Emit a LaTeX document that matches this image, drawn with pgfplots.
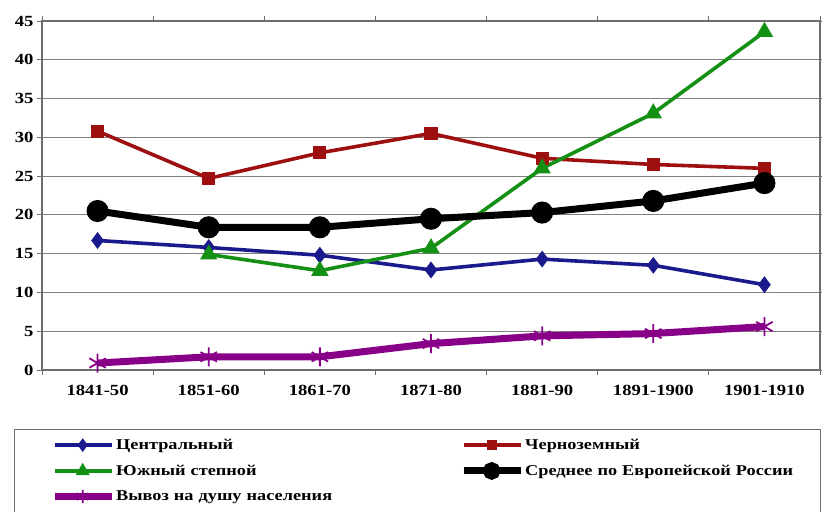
\documentclass[border=0pt]{standalone}
\usepackage{fontspec}
\setmainfont{Liberation Serif}[FakeStretch=1.2]
\newfontfamily\legfont{Liberation Serif}[FakeStretch=1.22]
\usepackage{pgfplots}
\pgfplotsset{compat=1.18}
\definecolor{cblue}{HTML}{1A1A8C}
\definecolor{cred}{HTML}{9E1010}
\definecolor{cgreen}{HTML}{149014}
\definecolor{cpurple}{HTML}{880088}
\definecolor{cframe}{HTML}{6E6E6E}
\definecolor{cgrid}{HTML}{808080}
\begin{document}
\begin{tikzpicture}
\begin{axis}[name=ax, scale only axis, width=778bp, height=349bp,
  xmin=-0.5, xmax=6.5, ymin=0, ymax=45,
  xtick={-0.5,0.5,...,6.5}, xticklabels={},
  extra x ticks={0,1,2,3,4,5,6},
  extra x tick labels={1841-50,1851-60,1861-70,1871-80,1881-90,1891-1900,1901-1910},
  extra x tick style={major tick length=0pt, grid=none, tick label style={yshift=-12bp}},
  ytick={0,5,...,45},
  ymajorgrids, grid style={cgrid, line width=0.8bp},
  tick align=outside, major tick length=5bp,
  tick style={cframe, line width=0.8bp},
  axis line style={cframe, line width=1.8bp},
  tick label style={font=\fontsize{15.5bp}{18bp}\selectfont\bfseries},
  /pgf/number format/assume math mode=true,
  legend columns=2,
  legend cell align=left,
  legend style={draw=none, fill=none, inner sep=0pt, at={(0,0)}, anchor=north west,
    xshift=9bp, yshift=-62bp, row sep=0pt, column sep=0pt,
    font=\fontsize{15bp}{18bp}\legfont\bfseries,
    nodes={text width=343bp, inner xsep=1bp, inner ysep=7bp}},
  legend image code/.code={\draw[mark repeat=2,mark phase=2,every mark/.append style={scale=0.7}] plot coordinates {(0bp,0bp)(28bp,0bp)(57bp,0bp)};},
]
\addplot[cblue, line width=3.6bp, mark=diamond*, mark size=5.5bp, mark options={solid}]
  coordinates {(0,16.7)(1,15.8)(2,14.8)(3,12.9)(4,14.3)(5,13.5)(6,11.0)};
\addlegendentry{Центральный}
\addplot[cred, line width=3.6bp, mark=square*, mark size=4.8bp, mark options={solid}]
  coordinates {(0,30.8)(1,24.7)(2,28.0)(3,30.5)(4,27.3)(5,26.5)(6,26.0)};
\addlegendentry{Черноземный}
\addplot[cgreen, line width=3.6bp, mark=triangle*, mark size=6.5bp, mark options={solid}]
  coordinates {(1,14.9)(2,12.8)(3,15.7)(4,26.0)(5,33.1)(6,43.6)};
\addlegendentry{Южный степной}
\addplot[black, line width=7bp, mark=*, mark size=7.5bp, mark options={solid}]
  coordinates {(0,20.5)(1,18.4)(2,18.4)(3,19.5)(4,20.3)(5,21.8)(6,24.1)};
\addlegendentry{Среднее по Европейской России}
\addplot[cpurple, line width=7bp, mark=asterisk, mark size=9.5bp, mark options={solid, line width=1.8bp}]
  coordinates {(0,0.9)(1,1.7)(2,1.7)(3,3.4)(4,4.4)(5,4.7)(6,5.6)};
\addlegendentry{Вывоз на душу населения}
\end{axis}
\draw[cframe, line width=1bp] ([xshift=-27bp,yshift=-150bp]ax.south west) -- ([xshift=-27bp,yshift=-59bp]ax.south west) -- ([yshift=-59bp]ax.south east) -- ([yshift=-150bp]ax.south east);
\pgfresetboundingbox
\path[use as bounding box] ([xshift=-42bp,yshift=-141bp]ax.south west) rectangle ([xshift=2bp,yshift=21bp]ax.north east);
\end{tikzpicture}
\end{document}
